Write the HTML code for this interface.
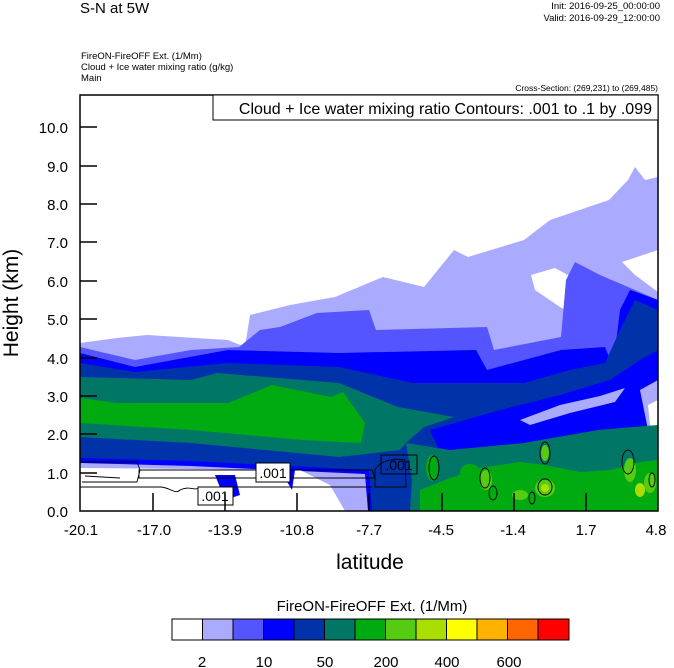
<!DOCTYPE html><html><head><style>body{margin:0;background:#fff}svg{display:block;font-family:"Liberation Sans",Arial,sans-serif}</style></head><body>
<svg width="674" height="668" viewBox="0 0 674 668">
<text x="80" y="13" font-size="15">S-N at 5W</text>
<text x="660" y="9" font-size="9.5" text-anchor="end">Init: 2016-09-25_00:00:00</text>
<text x="660" y="21" font-size="9.5" text-anchor="end">Valid: 2016-09-29_12:00:00</text>
<text x="81" y="59" font-size="9.5">FireON-FireOFF Ext.   (1/Mm)</text>
<text x="81" y="70" font-size="9.5">Cloud + Ice water mixing ratio   (g/kg)</text>
<text x="81" y="81" font-size="9.5">Main</text>
<text x="658" y="91" font-size="8.5" text-anchor="end">Cross-Section: (269,231) to (269,485)</text>
<g>
<polygon fill="#aaaaff" points="80,343 117,338 147,335 228,340 245,347 250,315 290,305 335,297 383,277 424,287 454,250 468,257 524,240 550,220 609,200 628,180 635,167 645,180 658,177 658,511 80,511"/>
<polygon fill="#fff" points="531,275 555,268 590,287 610,310 613,330 590,323 560,307 535,290"/>
<polygon fill="#fff" points="622,262 658,250 658,292 635,275"/>
<polygon fill="#5555ff" points="80,347 135,360 191,350 239,347 260,330 280,327 317,313 369,310 376,330 487,327 494,350 561,337 566,280 575,262 600,275 635,290 658,300 658,511 80,511"/>
<polygon fill="#0000ff" points="80,353 135,367 228,350 339,353 476,350 487,370 561,350 605,347 613,367 620,310 630,290 658,300 658,511 80,511"/>
<polygon fill="#0033aa" points="80,363 135,372 228,363 339,367 413,383 524,383 570,370 605,363 620,330 635,300 658,310 658,511 80,511"/>
<polygon fill="#0000ff" points="430,430 500,410 560,395 610,380 640,360 658,350 658,425 620,428 560,437 500,447 440,452"/>
<polygon fill="#aaaaff" points="520,420 560,405 600,396 625,388 615,402 570,413 530,425"/>
<polygon fill="#aaaaff" points="640,390 658,380 658,440 648,430"/>
<polygon fill="#fff" points="648,405 658,400 658,432 650,425"/>
<polygon fill="#007766" points="80,377 191,380 217,373 339,383 398,407 454,417 424,427 406,443 450,450 524,443 598,430 658,425 658,511 80,511"/>
<polygon fill="#00aa11" points="80,398 117,403 228,403 272,385 331,397 343,392 365,423 361,443 302,440 191,430 80,423"/>
<polygon fill="#0033aa" points="80,437 191,443 339,457 400,450 406,443 412,480 410,511 80,511"/>
<polygon fill="#0000ff" points="80,458 191,461 369,470 372,511 80,511"/>
<polygon fill="#aaaaff" points="80,463 191,466 365,474 368,511 80,511"/>
<polygon fill="#fff" points="80,468 300,470 330,485 345,511 80,511"/>
<polygon fill="#0000ff" points="215,475 235,475 240,495 225,500"/>
<polygon fill="#0000ff" points="280,470 295,470 292,490"/>
<g fill="#00aa11">
<polygon points="420,490 450,478 480,468 520,462 545,465 580,472 610,470 640,462 658,460 658,511 420,511"/>
<ellipse cx="432" cy="468" rx="6" ry="13"/>
<ellipse cx="470" cy="472" rx="10" ry="8"/>
</g>
<g fill="#55cc11"><ellipse cx="486" cy="480" rx="6" ry="10"/><ellipse cx="545" cy="488" rx="10" ry="9"/><ellipse cx="545" cy="453" rx="4" ry="8"/><ellipse cx="630" cy="470" rx="6" ry="12"/><ellipse cx="650" cy="483" rx="6" ry="10"/><ellipse cx="520" cy="495" rx="8" ry="5"/></g>
<g fill="#aadd00"><ellipse cx="545" cy="488" rx="4" ry="4"/><ellipse cx="640" cy="490" rx="5" ry="7"/></g>
<g fill="none" stroke="#000" stroke-width="0.9">
<path d="M82,462 L137,462 L140,470 L137,482 L82,482 M85,476 L120,478"/>
<path d="M139,470 L372,470 L375,478 L139,478 Z"/>
<path d="M80,487 L160,487 C170,487 175,495 180,490 C190,485 195,492 200,487 L372,487"/>
<path d="M375,470 C380,460 395,458 405,460 L406,487 L375,487 Z"/>
<ellipse cx="434" cy="468" rx="5" ry="12"/><ellipse cx="485" cy="478" rx="5" ry="10"/><ellipse cx="493" cy="493" rx="4" ry="7"/>
<ellipse cx="545" cy="453" rx="5" ry="11"/><ellipse cx="545" cy="487" rx="7" ry="8"/><ellipse cx="532" cy="498" rx="3" ry="6"/>
<ellipse cx="628" cy="462" rx="6" ry="12"/><ellipse cx="652" cy="480" rx="3" ry="7"/>
</g>
<g font-size="14" fill="#000">
<rect x="256" y="463" width="34" height="19" fill="#fff" stroke="#000"/><text x="273" y="478" text-anchor="middle">.001</text>
<rect x="198" y="487" width="35" height="18" fill="#fff" stroke="#000"/><text x="215" y="501" text-anchor="middle">.001</text>
<rect x="381" y="455" width="36" height="19" fill="none" stroke="#000"/><text x="399" y="470" text-anchor="middle">.001</text>
</g>
</g>
<rect x="80" y="95" width="578" height="416" fill="none" stroke="#000" stroke-width="1.5"/>
<rect x="213" y="95" width="445" height="25" fill="#fff" stroke="#000" stroke-width="1"/>
<text x="652" y="114" font-size="16" text-anchor="end">Cloud + Ice water mixing ratio Contours: .001 to .1 by .099</text>
<g stroke="#000" stroke-width="1.5">
<line x1="80" y1="473" x2="97" y2="473"/><line x1="80" y1="434" x2="97" y2="434"/><line x1="80" y1="396" x2="97" y2="396"/><line x1="80" y1="358" x2="97" y2="358"/><line x1="80" y1="319" x2="97" y2="319"/><line x1="80" y1="281" x2="97" y2="281"/><line x1="80" y1="242" x2="97" y2="242"/><line x1="80" y1="204" x2="97" y2="204"/><line x1="80" y1="166" x2="97" y2="166"/><line x1="80" y1="127" x2="97" y2="127"/>
<line x1="153" y1="511" x2="153" y2="493"/><line x1="225" y1="511" x2="225" y2="493"/><line x1="297" y1="511" x2="297" y2="493"/><line x1="369" y1="511" x2="369" y2="493"/><line x1="442" y1="511" x2="442" y2="493"/><line x1="514" y1="511" x2="514" y2="493"/><line x1="586" y1="511" x2="586" y2="493"/>
</g>
<g font-size="15" text-anchor="end">
<text x="68" y="517">0.0</text><text x="68" y="479">1.0</text><text x="68" y="440">2.0</text><text x="68" y="402">3.0</text><text x="68" y="364">4.0</text><text x="68" y="325">5.0</text><text x="68" y="287">6.0</text><text x="68" y="248">7.0</text><text x="68" y="210">8.0</text><text x="68" y="172">9.0</text><text x="68" y="133">10.0</text>
</g>
<g font-size="15" text-anchor="middle">
<text x="81" y="535">-20.1</text><text x="154" y="535">-17.0</text><text x="225" y="535">-13.9</text><text x="297" y="535">-10.8</text><text x="369" y="535">-7.7</text><text x="441" y="535">-4.5</text><text x="513" y="535">-1.4</text><text x="586" y="535">1.7</text><text x="656" y="535">4.8</text>
</g>
<text x="370" y="569" font-size="21" text-anchor="middle">latitude</text>
<text transform="translate(18,303) rotate(-90)" font-size="21" text-anchor="middle">Height (km)</text>
<text x="372" y="611" font-size="15" text-anchor="middle">FireON-FireOFF Ext.  (1/Mm)</text>
<g stroke="#000" stroke-width="1">
<rect x="172" y="619" width="30.5" height="21" fill="#fff"/><rect x="202.5" y="619" width="30.5" height="21" fill="#aaaaff"/><rect x="233" y="619" width="30.5" height="21" fill="#5555ff"/><rect x="263.5" y="619" width="30.5" height="21" fill="#0000ff"/><rect x="294" y="619" width="30.5" height="21" fill="#0033aa"/><rect x="324.5" y="619" width="30.5" height="21" fill="#007766"/><rect x="355" y="619" width="30.5" height="21" fill="#00aa11"/><rect x="385.5" y="619" width="30.5" height="21" fill="#55cc11"/><rect x="416" y="619" width="30.5" height="21" fill="#aadd00"/><rect x="446.5" y="619" width="30.5" height="21" fill="#ffff00"/><rect x="477" y="619" width="30.5" height="21" fill="#ffb300"/><rect x="507.5" y="619" width="30.5" height="21" fill="#ff6600"/><rect x="538" y="619" width="31" height="21" fill="#ff0000"/>
</g>
<g font-size="15" text-anchor="middle">
<text x="202" y="667">2</text><text x="264" y="667">10</text><text x="325" y="667">50</text><text x="386" y="667">200</text><text x="447" y="667">400</text><text x="509" y="667">600</text>
</g>
</svg>
</body></html>
